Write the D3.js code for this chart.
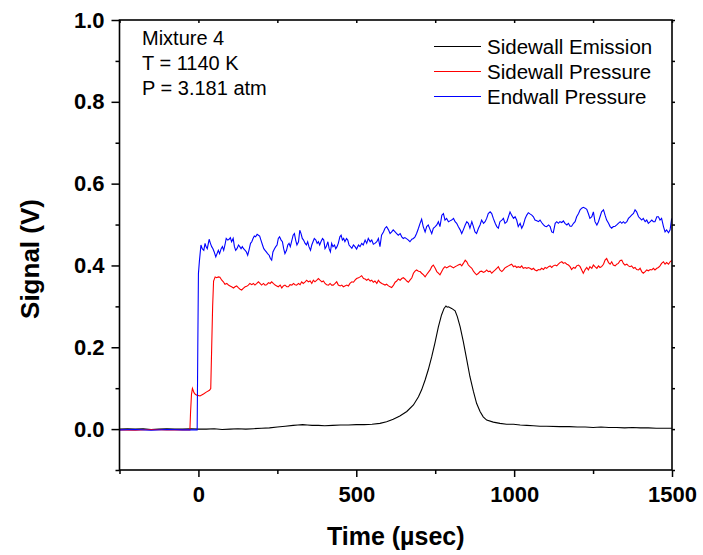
<!DOCTYPE html>
<html><head><meta charset="utf-8">
<script src="https://cdn.jsdelivr.net/npm/d3@7"></script>
<style>body{margin:0;background:#fff}svg{display:block}text{font-family:"Liberation Sans",Arial,sans-serif}</style>
</head><body>
<script>
const xTicks = [0, 500, 1000, 1500];
const xMinor = [-250, 250, 750, 1250];
const yTicks = [0.0, 0.2, 0.4, 0.6, 0.8, 1.0];
const yMinor = [-0.1, 0.1, 0.3, 0.5, 0.7, 0.9];
const seriesNames = ["Sidewall Emission", "Sidewall Pressure", "Endwall Pressure"];
const seriesColors = ["#000000", "#ff0000", "#0000ff"];
const infoLines = ["Mixture 4", "T = 1140 K", "P = 3.181 atm"];

const emission = [[-250,.000],[-225,.001],[-200,.000],[-175,.001],[-150,-.001],[-125,.000],[-100,.001],[-75,.000],[-50,.000],[-25,.001],[0,.000],[25,.000],[50,.001],[75,-.001],[100,.000],[125,.001],[150,.000],[175,.001],[200,.002],[225,.003],[250,.005],[275,.007],[300,.009],[315,.010],[330,.011],[345,.010],[360,.009],[380,.009],[400,.008],[425,.009],[450,.010],[475,.010],[500,.011],[525,.011],[550,.012],[575,.014],[596,.018],[617,.024],[638,.032],[660,.043],[681,.059],[697,.079],[707,.096],[718,.120],[728,.145],[739,.177],[749,.210],[760,.250],[770,.279],[778,.295],[784,.301],[788,.298],[792,.299],[802,.295],[813,.289],[820,.275],[829,.250],[839,.214],[850,.169],[860,.128],[871,.092],[881,.063],[892,.043],[902,.030],[913,.022],[934,.017],[955,.014],[976,.012],[998,.012],[1019,.010],[1040,.009],[1061,.008],[1082,.007],[1103,.007],[1145,.006],[1175,.006],[1200,.005],[1225,.005],[1250,.004],[1275,.005],[1300,.004],[1325,.004],[1350,.003],[1375,.004],[1400,.003],[1425,.003],[1450,.002],[1475,.002],[1500,.002]];

const sidewall = [[-250,-.002],[-200,-.003],[-150,-.001],[-100,-.002],[-50,-.002],[-27,-.002],[-25,.04],[-22,.085],[-19,.0995],[-14,.089],[-10,.085],[-5,.083],[5,.081],[16,.086],[26,.091],[35,.095],[39,.099],[42,.2],[45,.3],[48,.362],
[53,.372],[58,.370],[63,.372],[68,.371],[74,.364],[79,.360],[84,.354],[90,.356],[95,.352],[100,.350],[105,.348],[111,.345],[116,.348],[121,.350],[127,.345],[132,.342],[137,.340],[142,.344],[148,.348],[153,.349],[158,.352],[163,.356],[169,.353],[174,.356],[179,.352],[185,.356],[190,.360],[195,.356],[200,.352],[206,.356],[211,.352],[216,.353],[222,.358],[227,.356],[232,.360],[237,.356],[243,.352],[248,.350],[253,.348],[259,.352],[264,.345],[269,.350],[274,.352],[280,.348],[285,.348],[290,.353],[296,.352],[301,.356],[306,.353],[311,.352],[317,.356],[322,.353],[327,.360],[332,.356],[338,.360],[343,.364],[348,.360],[354,.362],[359,.356],[364,.364],[369,.360],[375,.364],[380,.368],[385,.364],[391,.360],[396,.362],[401,.356],[406,.353],[412,.352],[417,.356],[422,.352],[427,.352],[433,.356],[438,.360],[443,.352],[449,.350],[454,.352],[459,.348],[464,.350],[470,.352],[475,.350],
[480,.356],[486,.360],[491,.359],[496,.364],[501,.368],[507,.370],[512,.372],[517,.375],[523,.368],[528,.367],[533,.364],[538,.367],[544,.362],[549,.364],[554,.359],[559,.362],[565,.356],[570,.364],[575,.359],[581,.356],[586,.354],[591,.352],[596,.354],[602,.350],[607,.348],[612,.346],[618,.352],[623,.359],[628,.362],[633,.367],[639,.364],[644,.368],[649,.370],[654,.367],[660,.362],[665,.359],[670,.364],[676,.370],[681,.381],[686,.386],[691,.389],[697,.386],[702,.385],[707,.381],[713,.377],[718,.372],[723,.378],[728,.383],[734,.389],[739,.397],[744,.401],[750,.393],[755,.385],[760,.381],[765,.377],[771,.386],[776,.393],[781,.397],[786,.394],[792,.397],[797,.399],[802,.397],[808,.394],[813,.397],[818,.399],[823,.401],[829,.403],[834,.399],[839,.405],[845,.413],[850,.409],[855,.401],[860,.397],[866,.393],[871,.386],[876,.381],[881,.377],[887,.381],[892,.385],[897,.386],[903,.383],[908,.385],[913,.389],[918,.385],[924,.386],[929,.381],[934,.385],[940,.389],[945,.393],[950,.397],[955,.389],[961,.385],[966,.389],[971,.394],[977,.397],[982,.399],[987,.401],
[992,.403],[998,.397],[1003,.399],[1008,.395],[1013,.397],[1019,.395],[1024,.399],[1029,.393],[1035,.395],[1040,.393],[1045,.395],[1050,.393],[1056,.390],[1061,.393],[1066,.389],[1072,.387],[1077,.390],[1082,.389],[1087,.393],[1093,.390],[1098,.395],[1103,.393],[1109,.397],[1114,.399],[1119,.395],[1124,.399],[1130,.401],[1135,.399],[1140,.403],[1145,.407],[1151,.409],[1156,.405],[1161,.407],[1167,.403],[1172,.401],[1177,.397],[1182,.390],[1188,.395],[1193,.393],[1198,.399],[1204,.401],[1209,.397],[1214,.389],[1219,.381],[1225,.390],[1230,.395],[1235,.389],[1240,.397],[1246,.393],[1251,.401],[1256,.397],[1262,.393],[1267,.399],[1272,.395],[1277,.397],[1283,.403],[1288,.413],[1293,.417],[1299,.407],[1304,.403],[1309,.409],[1314,.401],[1320,.399],[1325,.403],[1330,.405],[1336,.412],[1341,.413],[1346,.405],[1351,.401],[1357,.403],[1362,.399],[1367,.397],[1372,.399],[1378,.393],[1383,.395],[1388,.390],[1394,.389],[1399,.393],[1404,.385],[1409,.381],[1415,.385],[1420,.389],[1425,.387],[1431,.390],[1436,.389],[1441,.393],[1446,.389],[1452,.393],[1457,.395],[1462,.399],[1467,.405],[1473,.409],[1478,.403],[1483,.407],[1489,.403],[1494,.409],[1499,.412]];

const endwall = [[-250,-.002],[-200,-.001],[-150,-.003],[-100,-.001],[-50,-.002],[-4,-.002],[-2,.2],[0,.38],[3,.41],[8,.45],
[12,.441],[17,.437],[21,.454],[24,.446],[28,.441],[34,.464],[38,.454],[42,.446],[46,.441],[50,.433],[55,.421],[59,.429],[63,.437],[67,.429],[72,.441],[76,.446],[80,.437],[84,.450],[88,.466],[93,.462],[97,.464],[101,.468],[105,.458],[110,.466],[114,.446],[118,.437],[122,.441],[127,.450],[131,.446],[135,.441],[139,.446],[143,.441],[148,.437],[152,.433],[156,.425],[160,.437],[165,.454],[169,.458],[173,.466],[177,.472],[181,.470],[186,.476],[190,.474],[194,.472],[198,.462],[203,.450],[207,.441],[211,.437],[215,.433],[219,.429],[224,.425],[228,.417],[232,.413],[236,.433],[241,.441],[245,.446],[249,.450],[253,.466],[257,.470],[262,.462],[266,.458],[270,.441],[274,.429],[279,.437],[283,.450],[287,.454],[291,.446],[295,.458],[300,.474],[304,.478],[308,.462],[312,.450],[317,.458],[321,.486],[325,.478],[329,.466],[333,.462],[338,.454],[342,.450],[346,.458],[350,.446],[355,.437],[359,.450],[363,.458],[367,.466],[372,.462],[376,.454],[380,.458],[384,.450],[388,.458],[393,.466],[397,.462],[401,.441],[405,.446],[410,.458],[414,.441],[418,.433],[422,.454],[426,.446],[431,.450],[435,.441],[439,.446],[443,.454],[448,.470],[452,.474],[456,.462],[460,.466],[464,.458],[469,.466],[473,.462],[477,.450],
[486,.442],[491,.450],[496,.446],[501,.440],[507,.450],[512,.446],[517,.454],[522,.450],[528,.462],[533,.454],[538,.466],[544,.458],[549,.462],[554,.452],[559,.454],[565,.458],[570,.466],[575,.446],[580,.474],[586,.482],[591,.491],[596,.495],[602,.487],[607,.478],[612,.482],[617,.487],[623,.482],[628,.478],[633,.474],[639,.478],[644,.470],[649,.466],[654,.468],[660,.465],[665,.462],[670,.458],[676,.464],[681,.466],[686,.470],[691,.478],[697,.491],[702,.503],[707,.513],[712,.495],[718,.482],[723,.495],[728,.499],[734,.487],[739,.478],[744,.491],[750,.495],[755,.499],[760,.507],[765,.495],[771,.523],[776,.527],[781,.511],[786,.515],[792,.507],[797,.509],[802,.511],[808,.515],[813,.507],[818,.503],[823,.495],[829,.487],[834,.478],[839,.487],[845,.499],[850,.507],[855,.503],[860,.491],[866,.507],[871,.495],[876,.482],[881,.478],[887,.491],[892,.499],[897,.511],[903,.503],[908,.507],[913,.515],[918,.527],[924,.531],[929,.527],[934,.515],[940,.503],[945,.495],[950,.491],[955,.507],[961,.511],[966,.515],[971,.503],[977,.507],[982,.519],[987,.531],
[992,.523],[998,.515],[1003,.519],[1008,.511],[1013,.495],[1019,.503],[1024,.491],[1029,.499],[1035,.515],[1040,.523],[1045,.529],[1050,.526],[1056,.523],[1061,.519],[1066,.511],[1072,.509],[1077,.507],[1082,.511],[1087,.505],[1093,.499],[1098,.496],[1103,.495],[1109,.499],[1114,.495],[1119,.482],[1124,.480],[1130,.503],[1135,.507],[1140,.503],[1145,.507],[1151,.505],[1156,.509],[1161,.503],[1167,.499],[1172,.503],[1177,.496],[1182,.496],[1188,.503],[1193,.507],[1198,.519],[1204,.527],[1209,.536],[1214,.540],[1219,.542],[1225,.540],[1230,.537],[1235,.527],[1240,.515],[1246,.519],[1251,.531],[1256,.507],[1262,.499],[1267,.507],[1272,.519],[1277,.531],[1283,.536],[1288,.523],[1293,.511],[1299,.503],[1304,.495],[1309,.491],[1314,.495],[1320,.496],[1325,.499],[1330,.503],[1336,.507],[1341,.503],[1346,.507],[1351,.503],[1357,.507],[1362,.515],[1367,.519],[1372,.523],[1378,.527],[1383,.536],[1388,.531],[1394,.519],[1399,.515],[1404,.511],[1409,.515],[1415,.507],[1420,.511],[1425,.503],[1431,.507],[1436,.511],[1441,.507],[1446,.507],[1452,.519],[1457,.519],[1462,.511],[1467,.515],[1473,.495],[1478,.482],[1483,.487],[1489,.480],[1494,.487],[1499,.515]];

const W = 703, H = 555;
const L = 119.5, R = 672, T = 20, B = 470;
const svg = d3.select("body").append("svg").attr("width", W).attr("height", H);
const x = d3.scaleLinear().domain([-250, 1500]).range([L, R]);
const y = d3.scaleLinear().domain([-0.1, 1.0]).range([B, T]);

svg.append("defs").append("clipPath").attr("id","clip")
  .append("rect").attr("x", L).attr("y", T).attr("width", R-L).attr("height", B-T);

const line = d3.line().x(d => x(d[0])).y(d => y(d[1]));
const g = svg.append("g").attr("clip-path","url(#clip)");
[emission, sidewall, endwall].forEach((s, i) => {
  g.append("path").datum(s).attr("d", line).attr("fill","none")
   .attr("stroke", seriesColors[i]).attr("stroke-width", 1.1);
});

const axStyle = sel => { sel.select(".domain").remove(); sel.selectAll("line").attr("stroke","#000").attr("stroke-width",1.5); };
const fmt1 = d3.format(".1f");
const labelStyle = s => s.selectAll("text").attr("font-size",22).attr("font-weight","bold").attr("fill","#000").attr("font-family","Liberation Sans, Arial, sans-serif");
svg.append("g").attr("transform",`translate(0,${B})`)
  .call(d3.axisBottom(x).tickValues(xTicks).tickSize(7).tickPadding(9).tickFormat(d3.format("d")))
  .call(axStyle).call(labelStyle);
svg.append("g").attr("transform",`translate(0,${B})`)
  .call(d3.axisBottom(x).tickValues(xMinor).tickSize(4).tickFormat(""))
  .call(axStyle);
svg.append("g").attr("transform",`translate(${L},0)`)
  .call(d3.axisLeft(y).tickValues(yTicks).tickSize(8).tickPadding(7).tickFormat(fmt1))
  .call(axStyle).call(labelStyle);
svg.append("g").attr("transform",`translate(${L},0)`)
  .call(d3.axisLeft(y).tickValues(yMinor).tickSize(4).tickFormat(""))
  .call(axStyle);
svg.append("g").attr("transform",`translate(0,${T})`)
  .call(d3.axisBottom(x).tickValues(xTicks.concat(xMinor)).tickSize(3).tickFormat(""))
  .call(axStyle);
svg.append("g").attr("transform",`translate(${R},0)`)
  .call(d3.axisRight(y).tickValues(yTicks.concat(yMinor)).tickSize(3).tickFormat(""))
  .call(axStyle);

svg.append("rect").attr("x", L).attr("y", T).attr("width", R-L).attr("height", B-T)
  .attr("fill","none").attr("stroke","#000").attr("stroke-width",1.6);

svg.append("text").attr("x", (L+R)/2).attr("y", 545).attr("text-anchor","middle")
  .attr("font-size",25).attr("font-weight","bold").text("Time (\u00b5sec)");
svg.append("text").attr("transform","translate(39,259) rotate(-90)").attr("text-anchor","middle")
  .attr("font-size",26).attr("font-weight","bold").text("Signal (V)");

infoLines.forEach((t, i) => {
  svg.append("text").attr("x", 142).attr("y", 45 + i*25).attr("font-size",20).text(t);
});

seriesNames.forEach((n, i) => {
  const yy = 54 + i*25;
  svg.append("line").attr("x1",434).attr("x2",481).attr("y1",yy-7.5).attr("y2",yy-7.5)
    .attr("stroke",seriesColors[i]).attr("stroke-width",1.1);
  svg.append("text").attr("x",487).attr("y",yy).attr("font-size",20.5).text(n);
});
</script>
</body></html>
